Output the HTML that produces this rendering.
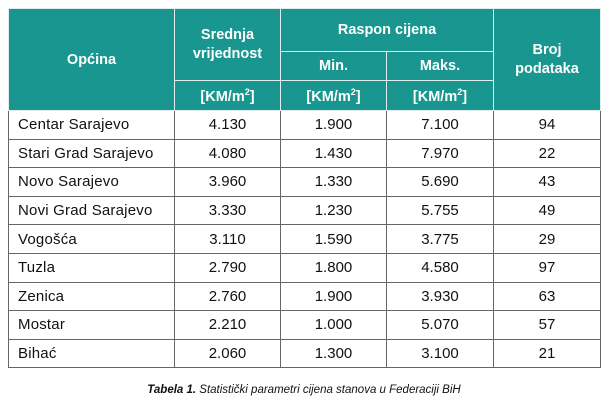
<!DOCTYPE html>
<html><head><style>
body{margin:0;width:608px;height:406px;background:#fff;font-family:"Liberation Sans",sans-serif;position:relative;overflow:hidden}
table{position:absolute;left:8px;top:8px;border-collapse:collapse;table-layout:fixed;width:592px}
td,th{border:1px solid #666;font-size:15px;color:#111;text-align:center;padding:0;height:27.6px}
th{background:#19968f;color:#fff;font-weight:bold;border-color:#dfeeee;font-size:14.5px}
td.l{text-align:left;padding-left:9px;letter-spacing:0.2px}
.cap{position:absolute;top:384px;left:0;width:608px;text-align:center;font-size:11.5px;font-style:italic;color:#111}
</style></head><body>
<table>
<colgroup><col style="width:166px"><col style="width:106px"><col style="width:106px"><col style="width:107px"><col style="width:107px"></colgroup>
<tr><th rowspan="3" style="height:100px">Općina</th><th rowspan="2" style="line-height:19px">Srednja<br>vrijednost</th><th colspan="2" style="height:42px">Raspon cijena</th><th rowspan="3" style="line-height:19px">Broj<br>podataka</th></tr>
<tr><th style="height:28px">Min.</th><th>Maks.</th></tr>
<tr><th style="height:29px">[KM/m<sup style="font-size:9px">2</sup>]</th><th>[KM/m<sup style="font-size:9px">2</sup>]</th><th>[KM/m<sup style="font-size:9px">2</sup>]</th></tr>
<tr><td class="l">Centar Sarajevo</td><td>4.130</td><td>1.900</td><td>7.100</td><td>94</td></tr>
<tr><td class="l">Stari Grad Sarajevo</td><td>4.080</td><td>1.430</td><td>7.970</td><td>22</td></tr>
<tr><td class="l">Novo Sarajevo</td><td>3.960</td><td>1.330</td><td>5.690</td><td>43</td></tr>
<tr><td class="l">Novi Grad Sarajevo</td><td>3.330</td><td>1.230</td><td>5.755</td><td>49</td></tr>
<tr><td class="l">Vogošća</td><td>3.110</td><td>1.590</td><td>3.775</td><td>29</td></tr>
<tr><td class="l">Tuzla</td><td>2.790</td><td>1.800</td><td>4.580</td><td>97</td></tr>
<tr><td class="l">Zenica</td><td>2.760</td><td>1.900</td><td>3.930</td><td>63</td></tr>
<tr><td class="l">Mostar</td><td>2.210</td><td>1.000</td><td>5.070</td><td>57</td></tr>
<tr><td class="l">Bihać</td><td>2.060</td><td>1.300</td><td>3.100</td><td>21</td></tr>
</table>
<div class="cap"><b>Tabela 1.</b> Statistički parametri cijena stanova u Federaciji BiH</div>
</body></html>
